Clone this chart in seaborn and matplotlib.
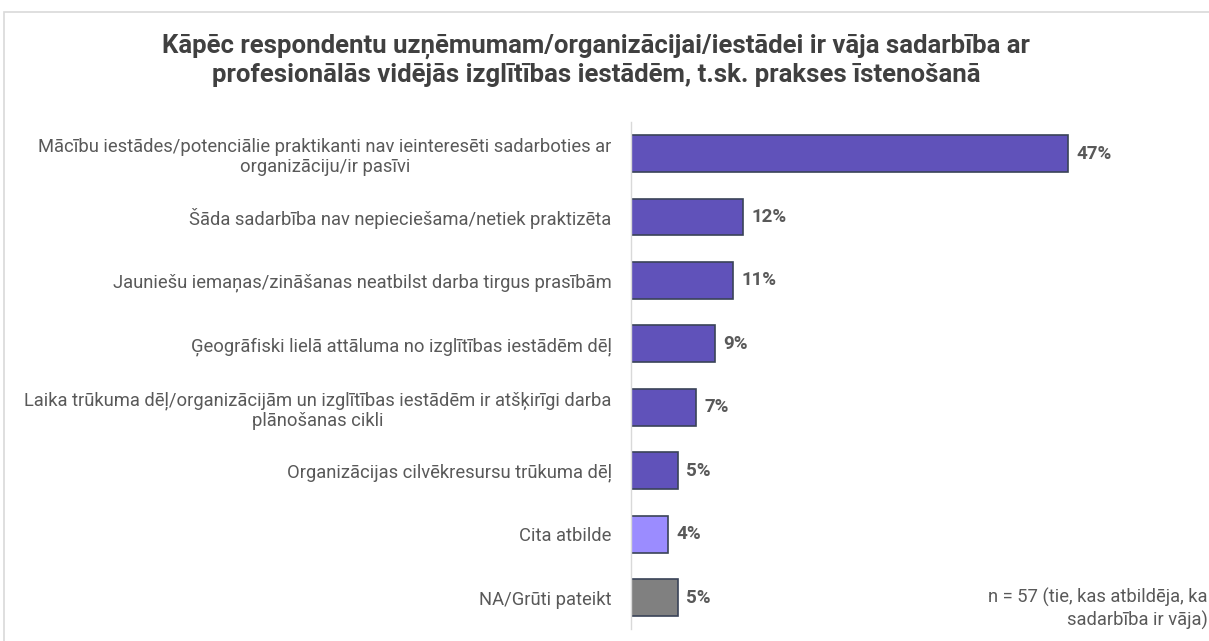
import matplotlib
matplotlib.use('Agg')
import matplotlib.pyplot as plt
import seaborn as sns
import pandas as pd
from matplotlib.patches import Rectangle

# data
categories = [
    'Mācību iestādes/potenciālie praktikanti nav ieinteresēti sadarboties ar\norganizāciju/ir pasīvi',
    'Šāda sadarbība nav nepieciešama/netiek praktizēta',
    'Jauniešu iemaņas/zināšanas neatbilst darba tirgus prasībām',
    'Ģeogrāfiski lielā attāluma no izglītības iestādēm dēļ',
    'Laika trūkuma dēļ/organizācijām un izglītības iestādēm ir atšķirīgi darba\nplānošanas cikli',
    'Organizācijas cilvēkresursu trūkuma dēļ',
    'Cita atbilde',
    'NA/Grūti pateikt',
]
values = [47, 12, 11, 9, 7, 5, 4, 5]
bar_colors = ['#6052BA'] * 6 + ['#9B8CFF', '#808080']

title = ('Kāpēc respondentu uzņēmumam/organizācijai/iestādei ir vāja sadarbība ar\n'
         'profesionālās vidējās izglītības iestādēm, t.sk. prakses īstenošanā')
note = 'n = 57 (tie, kas atbildēja, ka\nsadarbība ir vāja)'

df = pd.DataFrame({'category': categories, 'value': values})

sns.set_style('white')
plt.rcParams['font.family'] = ['Roboto', 'DejaVu Sans']

fig = plt.figure(figsize=(12.09, 6.41), dpi=100)
ax = fig.add_axes([0.522, 0.018, 0.454, 0.792])

sns.barplot(data=df, x='value', y='category', hue='category', palette=bar_colors,
            legend=False, width=0.58, saturation=1, edgecolor='#3A4358',
            linewidth=1.2, ax=ax)

for i, v in enumerate(values):
    ax.text(v + 0.9, i, f'{v}%', va='center', ha='left', fontsize=13.5,
            fontweight='bold', color='#595959')

ax.set_xlim(0, 59)
ax.set_ylim(7.5, -0.5)
ax.set_xlabel('')
ax.set_ylabel('')
ax.set_xticks([])
ax.tick_params(axis='y', length=0, pad=14, labelsize=13.2, labelcolor='#595959')
for lbl in ax.get_yticklabels():
    lbl.set_horizontalalignment('right')
    lbl.set_multialignment('center')
for s in ['top', 'right', 'bottom']:
    ax.spines[s].set_visible(False)
ax.spines['left'].set_color('#D9D9D9')
ax.spines['left'].set_linewidth(1)

fig.text(0.493, 0.906, title, ha='center', va='center', fontsize=18.5,
         fontweight='bold', color='#404040', linespacing=1.2)
fig.text(0.999, 0.05, note, ha='right', va='center', fontsize=13.2,
         color='#595959', multialignment='right')

# light frame
fig.add_artist(Rectangle((0.003, -0.05), 1.1, 1.032, transform=fig.transFigure,
                         fill=False, edgecolor='#D9D9D9', linewidth=1.2))

fig.savefig('out.png', dpi=100)
